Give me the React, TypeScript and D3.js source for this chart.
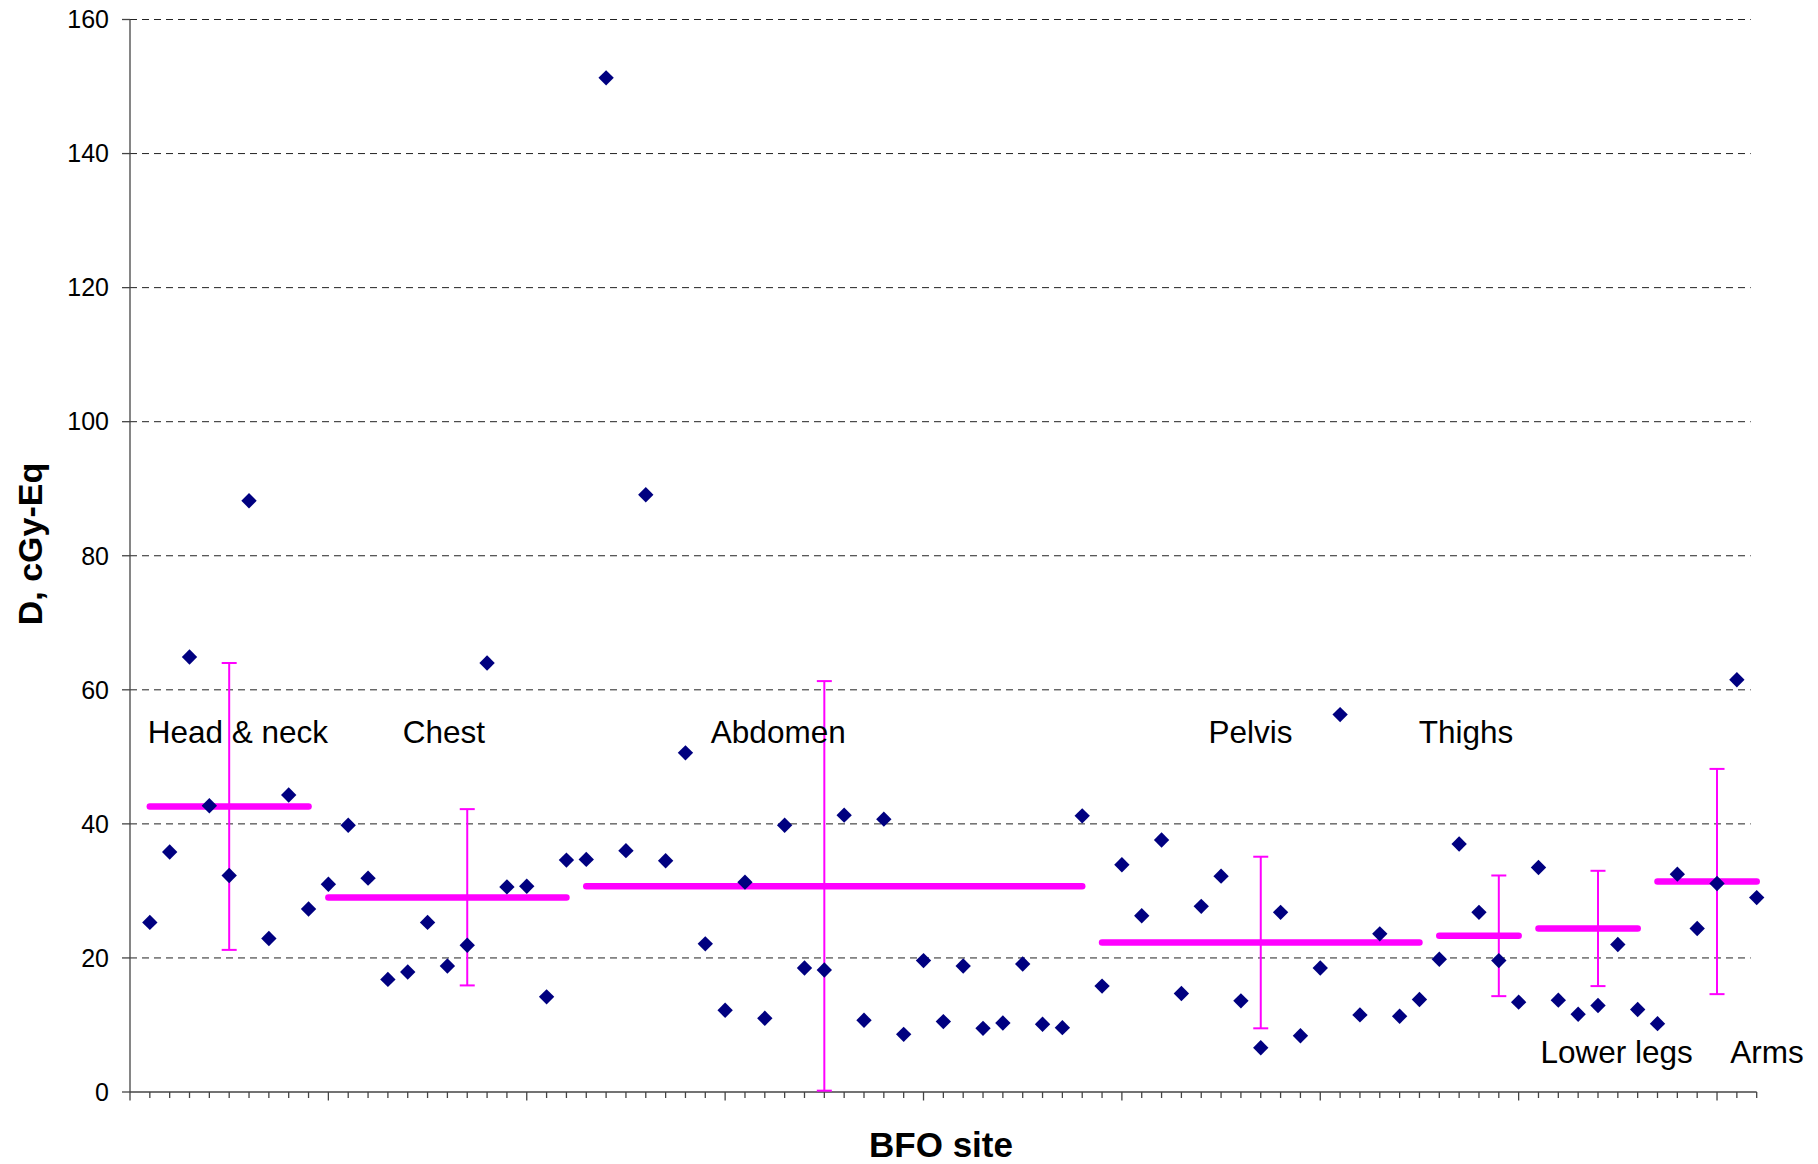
import React from "react";
import * as d3 from "d3";

// ---- data ----
const doses: number[] = [
  25.3, 35.8, 64.9, 42.7, 32.3, 88.2, 22.9, 44.3, 27.3, 31.0,
  39.8, 31.9, 16.8, 17.9, 25.3, 18.8, 21.9, 64.0, 30.6, 30.7,
  14.2, 34.6, 34.7, 151.3, 36.0, 89.1, 34.5, 50.6, 22.1, 12.2,
  31.3, 11.0, 39.8, 18.5, 18.2, 41.3, 10.7, 40.7, 8.6, 19.6,
  10.5, 18.8, 9.5, 10.3, 19.1, 10.1, 9.6, 41.2, 15.8, 33.9,
  26.3, 37.6, 14.7, 27.7, 32.2, 13.6, 6.6, 26.8, 8.4, 18.5,
  56.3, 11.5, 23.6, 11.3, 13.8, 19.8, 37.0, 26.8, 19.6, 13.4,
  33.5, 13.7, 11.6, 12.9, 22.0, 12.3, 10.2, 32.5, 24.4, 31.1,
  61.5, 29.0,
];
const sites = ["Head & neck", "Chest", "Abdomen", "Pelvis", "Thighs", "Lower legs", "Arms"];
const groupStart = [1, 10, 23, 49, 66, 71, 77];
const groupEnd = [9, 22, 48, 65, 70, 76, 82];
const groupMean = [42.6, 29.0, 30.7, 22.3, 23.3, 24.4, 31.4];
const errX = [5, 17, 35, 57, 69, 74, 80];
const errHigh = [64.0, 42.2, 61.3, 35.1, 32.3, 33.0, 48.2];
const errLow = [21.2, 15.9, 0.2, 9.5, 14.3, 15.8, 14.6];
const yTicks = [0, 20, 40, 60, 80, 100, 120, 140, 160];

// label anchor positions in data space (x index, y value)
const labelX = [0.89, 13.75, 29.28, 54.37, 64.96, 71.1, 80.67];
const labelY = [52.0, 52.0, 52.0, 52.0, 52.0, 4.37, 4.37];

const W = 1818;
const H = 1164;
const FONT = "'Liberation Sans', Arial, Helvetica, sans-serif";

export default function App() {
  const x = d3.scaleLinear().domain([0, 82]).range([130, 1756.7]);
  const y = d3.scaleLinear().domain([0, 160]).range([1092, 19.5]);
  const diamond = d3.symbol().type(d3.symbolSquare).size(118)();
  const minorTicks = d3.range(0, 83);

  return (
    <svg
      width={W}
      height={H}
      style={{ position: "absolute", left: 0, top: 0, background: "#fff" }}
      fontFamily={FONT}
    >
      {/* grid */}
      {yTicks.filter((t) => t > 0).map((t) => (
        <line
          key={"g" + t}
          x1={x(0)}
          x2={x(81.7)}
          y1={y(t)}
          y2={y(t)}
          stroke="#222"
          strokeWidth={1}
          strokeDasharray="7,5"
        />
      ))}
      {/* y axis */}
      <line x1={x(0)} x2={x(0)} y1={y(0)} y2={y(160)} stroke="#444" strokeWidth={1.3} />
      {yTicks.map((t) => (
        <g key={"yt" + t}>
          <line x1={x(0) - 8} x2={x(0)} y1={y(t)} y2={y(t)} stroke="#444" strokeWidth={1.3} />
          <text x={109} y={y(t)} dy="0.35em" textAnchor="end" fontSize={25} fill="#000">
            {t}
          </text>
        </g>
      ))}
      {/* x axis */}
      <line x1={x(0)} x2={x(82)} y1={y(0)} y2={y(0)} stroke="#444" strokeWidth={1.3} />
      {minorTicks.map((i) => (
        <line
          key={"xt" + i}
          x1={x(i)}
          x2={x(i)}
          y1={y(0)}
          y2={y(0) + (i % 10 === 0 ? 8.5 : 6)}
          stroke="#444"
          strokeWidth={1.3}
        />
      ))}
      {/* mean lines */}
      {groupMean.map((m, k) => (
        <line
          key={"m" + k}
          x1={x(groupStart[k])}
          x2={x(groupEnd[k])}
          y1={y(m)}
          y2={y(m)}
          stroke="#ff00ff"
          strokeWidth={6.5}
          strokeLinecap="round"
        />
      ))}
      {/* error bars */}
      {errX.map((ex, k) => (
        <g key={"e" + k} stroke="#ff00ff" strokeWidth={2}>
          <line x1={x(ex)} x2={x(ex)} y1={y(errHigh[k])} y2={y(errLow[k])} />
          <line x1={x(ex) - 7.5} x2={x(ex) + 7.5} y1={y(errHigh[k])} y2={y(errHigh[k])} />
          <line x1={x(ex) - 7.5} x2={x(ex) + 7.5} y1={y(errLow[k])} y2={y(errLow[k])} />
        </g>
      ))}
      {/* points */}
      {doses.map((v, i) => (
        <path
          key={"p" + i}
          d={diamond}
          transform={`translate(${x(i + 1)},${y(v)}) rotate(45)`}
          fill="#000080"
        />
      ))}
      {/* site labels */}
      {sites.map((s, k) => (
        <text key={"l" + k} x={x(labelX[k])} y={y(labelY[k])} fontSize={31.5} fill="#000">
          {s}
        </text>
      ))}
      {/* axis titles */}
      <text
        x={941}
        y={1156.7}
        textAnchor="middle"
        fontSize={35}
        fontWeight="bold"
        fill="#000"
      >
        BFO site
      </text>
      <text
        transform={`translate(41.7,544) rotate(-90)`}
        textAnchor="middle"
        fontSize={34}
        fontWeight="bold"
        fill="#000"
      >
        D, cGy-Eq
      </text>
    </svg>
  );
}
